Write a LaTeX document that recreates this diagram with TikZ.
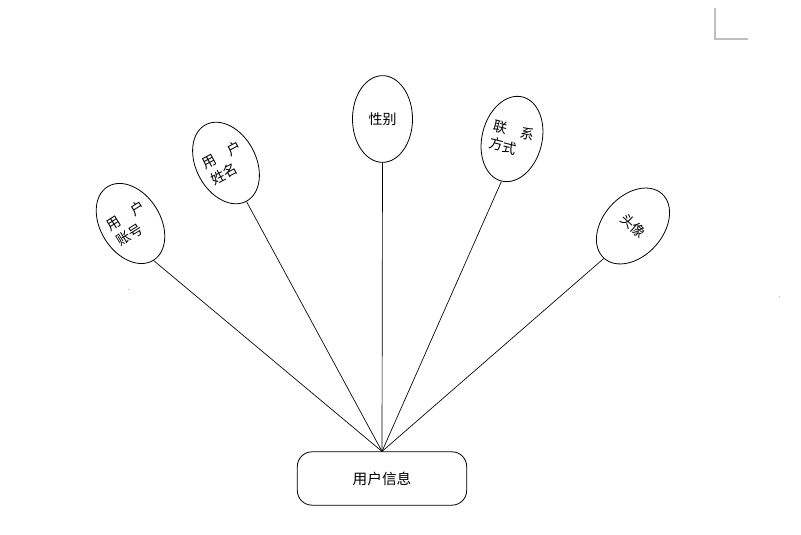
\documentclass[tikz,border=0pt]{standalone}
\usepackage{fontspec}
\newfontfamily\cjk{Noto Sans CJK SC}
\usetikzlibrary{shapes.geometric}

\tikzset{
  attr/.style={ellipse, draw, line width=0.6pt, minimum width=45pt, minimum height=65pt,
    inner sep=0pt, align=left, font=\cjk\fontsize{10.5pt}{13.5pt}\selectfont},
  entity/.style={draw, line width=0.6pt, rounded corners=11pt, minimum width=127pt,
    minimum height=40pt, font=\cjk\fontsize{11pt}{13pt}\selectfont},
  link/.style={line width=0.5pt}
}

\begin{document}
\begin{tikzpicture}[x=0.75pt, y=0.75pt]
  \useasboundingbox (0,0) rectangle (801,535);
  % marca de pagina
  \draw[black!25, line width=0.8pt] (715,527) -- (715,496) -- (748,496);
  \fill[black!30] (127.5,244.5) rectangle (128.5,246);
  \fill[black!30] (778.5,237.5) rectangle (780,238.5);
  % entidad
  \node[entity] (info) at (382,56.5) {用户信息};
  % atributos
  \node[attr, rotate=32] (zh) at (130.5,311.5) {用\quad 户\\账号};
  \node[attr, rotate=28] (xm) at (226,372) {用\quad 户\\姓名};
  \node[attr] (xb) at (382.5,416) {性别};
  \node[attr, rotate=-14] (lx) at (512,396) {联\quad 系\\方式};
  \node[attr, rotate=-42] (tx) at (633,309) {头像};
  % conexiones
  \foreach \a in {zh,xm,xb,lx,tx}
    \draw[link] (\a.south) -- (info.north);
\end{tikzpicture}
\end{document}
